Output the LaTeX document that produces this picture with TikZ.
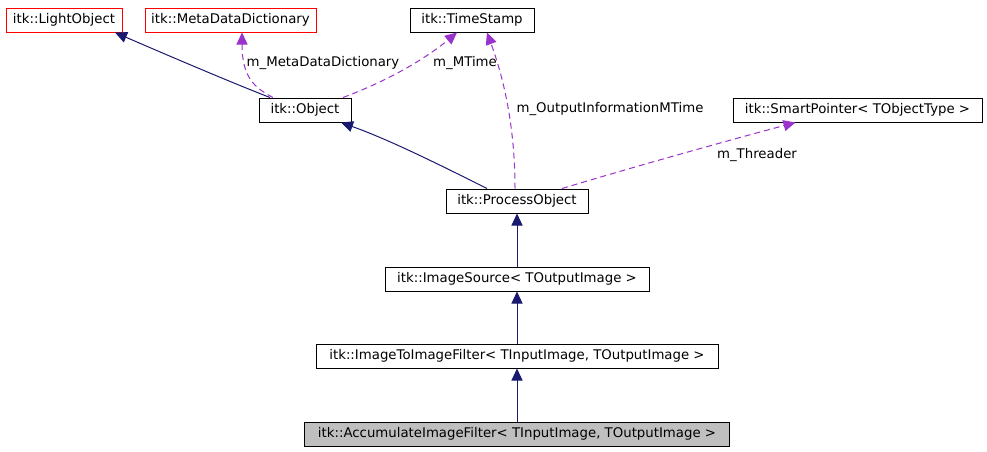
\documentclass[tikz,border=0pt]{standalone}
\usepackage{fontspec}
\setmainfont{DejaVu Sans}
\usetikzlibrary{arrows.meta}

\definecolor{inhcol}{HTML}{191970}
\definecolor{usecol}{HTML}{9A32CD}
\definecolor{selfcol}{HTML}{BFBFBF}

\tikzset{
    cls/.style={draw=black, fill=white, line width=1pt, minimum height=24pt, inner xsep=6pt, inner ysep=0pt, font=\fontsize{13.3}{15}\selectfont},
    undoc/.style={cls, draw=red},
    inh/.style={draw=inhcol, line width=1pt, -{Triangle[length=12pt,width=11pt]}},
    use/.style={draw=usecol, line width=1pt, dash pattern=on 6pt off 4pt, -{Triangle[length=12pt,width=11pt,fill=usecol]}},
    lbl/.style={font=\fontsize{13.3}{15}\selectfont, inner sep=0pt}
}

\begin{document}
\begin{tikzpicture}[x=1pt,y=-1pt]
    \useasboundingbox (0,0) rectangle (987,451);

    \node[undoc, minimum width=116pt] (light) at (64,20) {itk::LightObject};
    \node[undoc, minimum width=171pt] (meta) at (230.5,20) {itk::MetaDataDictionary};
    \node[cls, minimum width=124pt] (stamp) at (472,20) {itk::TimeStamp};
    \node[cls, minimum width=92pt] (object) at (305,110) {itk::Object};
    \node[cls, minimum width=249pt] (smart) at (857.5,110) {itk::SmartPointer< TObjectType >};
    \node[cls, minimum width=142pt] (process) at (517,201) {itk::ProcessObject};
    \node[cls, minimum width=264pt] (source) at (517,279) {itk::ImageSource< TOutputImage >};
    \node[cls, minimum width=402pt] (i2i) at (517,356) {itk::ImageToImageFilter< TInputImage, TOutputImage >};
    \node[cls, fill=selfcol, minimum width=425pt] (accum) at (517,434) {itk::AccumulateImageFilter< TInputImage, TOutputImage >};

    \draw[inh] ([xshift=-35pt]object.north) .. controls (230,82) and (160,52) .. ([xshift=51pt]light.south);
    \draw[use] ([xshift=-32pt]object.north) .. controls (255,88) and (242,78) .. ([xshift=11.5pt]meta.south);
    \draw[use] ([xshift=38pt]object.north) .. controls (395,78) and (430,55) .. ([xshift=-15pt]stamp.south);
    \draw[inh] ([xshift=-30pt]process.north) .. controls (440,165) and (390,140) .. ([xshift=36pt]object.south);
    \draw[use] ([xshift=-2pt]process.north) .. controls (515,140) and (508,90) .. ([xshift=15pt]stamp.south);
    \draw[use] ([xshift=45pt]process.north) .. controls (640,165) and (730,140) .. ([xshift=-62pt]smart.south);
    \draw[inh] (source.north) -- (process.south);
    \draw[inh] (i2i.north) -- (source.south);
    \draw[inh] (accum.north) -- (i2i.south);

    \node[lbl] (lmeta) at (323,63) {m\_MetaDataDictionary};
    \node[lbl] (lmtime) at (465,63) {m\_MTime};
    \node[lbl] (lout) at (610,109) {m\_OutputInformationMTime};
    \node[lbl] (lthread) at (757,155) {m\_Threader};

\end{tikzpicture}
\end{document}
